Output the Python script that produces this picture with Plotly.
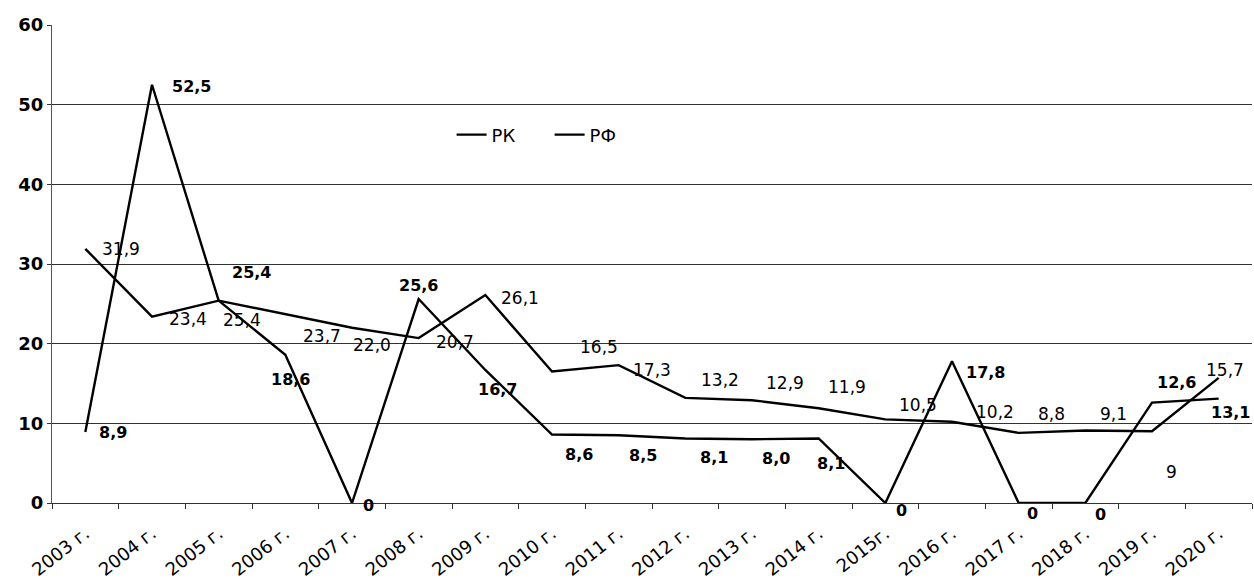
import plotly.graph_objects as go

years = ["2003 г.", "2004 г.", "2005 г.", "2006 г.", "2007 г.", "2008 г.", "2009 г.",
         "2010 г.", "2011 г.", "2012 г.", "2013 г.", "2014 г.", "2015г.", "2016 г.",
         "2017 г.", "2018 г.", "2019 г.", "2020 г."]
rk = [8.9, 52.5, 25.4, 18.6, 0, 25.6, 16.7, 8.6, 8.5, 8.1, 8.0, 8.1, 0, 17.8, 0, 0, 12.6, 13.1]
rf = [31.9, 23.4, 25.4, 23.7, 22.0, 20.7, 26.1, 16.5, 17.3, 13.2, 12.9, 11.9, 10.5, 10.2, 8.8, 9.1, 9, 15.7]
rk_text = ["8,9", "52,5", "25,4", "18,6", "0", "25,6", "16,7", "8,6", "8,5", "8,1", "8,0", "8,1",
           "0", "17,8", "0", "0", "12,6", "13,1"]
rf_text = ["31,9", "23,4", "25,4", "23,7", "22,0", "20,7", "26,1", "16,5", "17,3", "13,2", "12,9",
           "11,9", "10,5", "10,2", "8,8", "9,1", "9", "15,7"]

# label offsets in pixels (dx right, dy down)
rk_off = [(28, 0), (39, 2), (33, -28), (5, 25), (16, 2), (0, -14), (12, 20), (27, 20), (24, 20),
          (29, 19), (24, 19), (12, 25), (16, 7), (33, 11), (14, 10), (15, 11), (24, -20), (12, 14)]
rf_off = [(36, 0), (36, 2), (23, 19), (37, 22), (20, 17), (36, 4), (35, 3), (47, -25), (33, 5),
          (35, -18), (33, -17), (28, -21), (33, -14), (43, -10), (33, -19), (28, -17), (19, 41), (6, -8)]

FONT = "DejaVu Sans"
fig = go.Figure()
fig.add_trace(go.Scatter(x=years, y=rk, mode="lines", name="РК",
                         line=dict(color="black", width=2.4)))
fig.add_trace(go.Scatter(x=years, y=rf, mode="lines", name="РФ",
                         line=dict(color="black", width=2.4)))

for xs, ys, ts, offs, bold, size in [(years, rk, rk_text, rk_off, "bold", 16),
                                       (years, rf, rf_text, rf_off, "normal", 17)]:
    for x, y, t, (dx, dy) in zip(xs, ys, ts, offs):
        fig.add_annotation(x=x, y=y, text=t, showarrow=False, xanchor="center", yanchor="middle",
                           xshift=dx, yshift=-dy,
                           font=dict(family=FONT, size=size, color="black", weight=bold))

fig.update_layout(
    width=1254, height=588,
    margin=dict(l=52, r=2, t=25, b=85),
    paper_bgcolor="white", plot_bgcolor="white",
    showlegend=True,
    legend=dict(orientation="h", x=0.333, y=0.77, xanchor="left", yanchor="middle",
                font=dict(family=FONT, size=18, color="black"),
                bgcolor="rgba(0,0,0,0)", itemwidth=30, entrywidth=53),
    xaxis=dict(type="category", range=[-0.5, len(years) - 0.5], tickson="boundaries",
               ticks="outside", ticklen=5, ticklabelstandoff=12,
               tickcolor="#333", showgrid=False, tickangle=-38, automargin=False,
               tickfont=dict(family=FONT, size=18, color="black"),
               showline=True, linecolor="#333", linewidth=1),
    yaxis=dict(range=[0, 60], dtick=10, showgrid=True, gridcolor="#333", gridwidth=1,
               zeroline=False, ticks="outside", ticklen=4, tickcolor="#333", automargin=False,
               showline=True, linecolor="#555", linewidth=1,
               tickfont=dict(family=FONT, size=18, color="black", weight="bold")),
)

fig.write_html("out.html", config={"displayModeBar": False},
               post_script="document.body.style.margin='0';document.body.style.overflow='hidden';")
